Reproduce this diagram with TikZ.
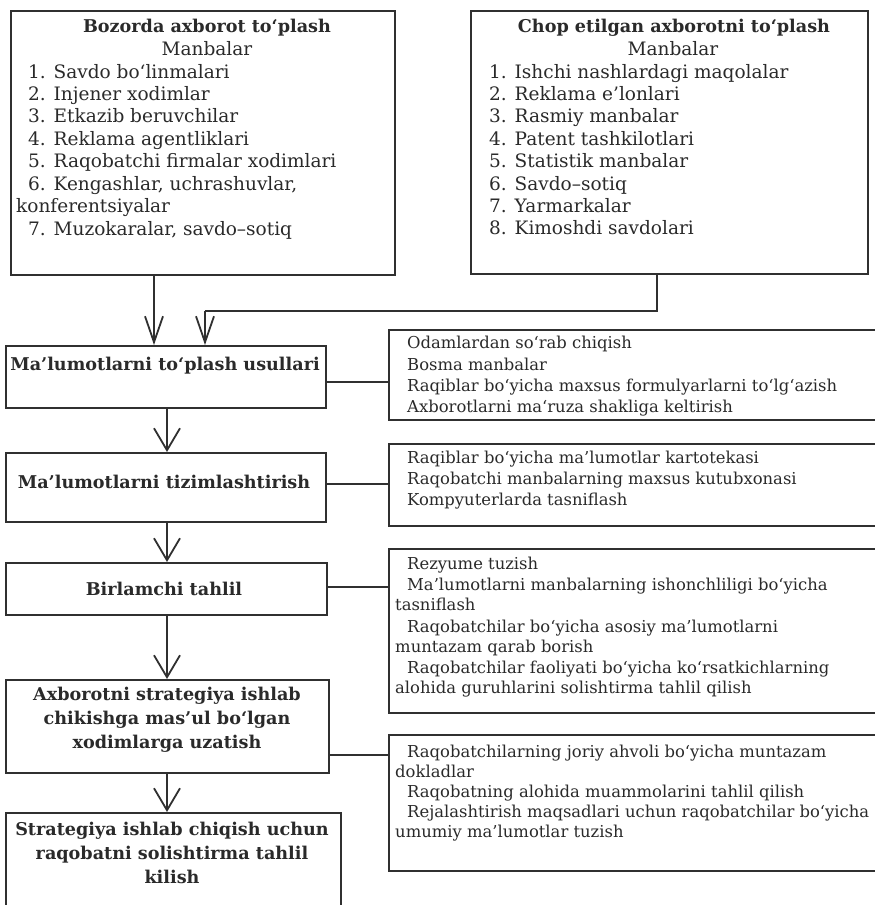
\documentclass[tikz,border=0pt]{standalone}
\usepackage{fontspec}
\setmainfont{DejaVu Serif}
\usetikzlibrary{arrows.meta}
\definecolor{ink}{HTML}{2A2A2A}
\definecolor{edge}{HTML}{303030}
\tikzset{
  boxnode/.style={draw=edge, line width=1.8pt, rectangle, inner sep=0pt, anchor=north west},
  conn/.style={draw=edge, line width=1.8pt},
  arrA/.style={conn, -{Straight Barb[length=26pt,width=18pt]}},
  arrB/.style={conn, -{Straight Barb[length=22pt,width=26pt]}},
  ttl/.style={font=\bfseries\fontsize{17.6}{20}\selectfont, text=ink, anchor=base, inner sep=0pt},
  sub/.style={font=\fontsize{18.5}{20}\selectfont, text=ink, anchor=base, inner sep=0pt},
  item/.style={font=\fontsize{18.5}{20}\selectfont, text=ink, anchor=base west, inner sep=0pt},
  sitem/.style={font=\fontsize{16.4}{18}\selectfont, text=ink, anchor=base west, inner sep=0pt},
}
\begin{document}
\begin{tikzpicture}[x=1pt,y=-1pt]
\fill[white] (0,0) rectangle (875,905);
\useasboundingbox (0,0) rectangle (875,905);

% ---------- top source boxes ----------
\node[boxnode, minimum width=384pt, minimum height=264pt] (src1) at (10,10) {};
\node[boxnode, minimum width=397pt, minimum height=263pt] (src2) at (470,10) {};

\node[ttl] (s1t) at (207,32) {Bozorda axborot to`plash};
\node[sub] (s1m) at (207,55) {Manbalar};
\foreach \t [count=\i] in {{1. Savdo bo`linmalari},{2. Injener xodimlar},{3. Etkazib beruvchilar},{4. Reklama agentliklari},{5. Raqobatchi firmalar xodimlari},{6. Kengashlar, uchrashuvlar,}}
  \node[item] (s1i\i) at (28,{78+(\i-1)*22.4}) {\t};
\node[item] (s1c) at (16,212) {konferentsiyalar};
\node[item] (s1i7) at (28,235) {7. Muzokaralar, savdo–sotiq};

\node[ttl] (s2t) at (674,32) {Chop etilgan axborotni to`plash};
\node[sub] (s2m) at (673,55) {Manbalar};
\foreach \t [count=\i] in {{1. Ishchi nashlardagi maqolalar},{2. Reklama e'lonlari},{3. Rasmiy manbalar},{4. Patent tashkilotlari},{5. Statistik manbalar},{6. Savdo–sotiq},{7. Yarmarkalar},{8. Kimoshdi savdolari}}
  \node[item] (s2i\i) at (489,{78+(\i-1)*22.4}) {\t};

% ---------- left process boxes ----------
\node[boxnode, minimum width=320pt, minimum height=62pt] (m1) at (5,345) {};
\node[boxnode, minimum width=320pt, minimum height=69pt] (m2) at (5,452) {};
\node[boxnode, minimum width=321pt, minimum height=52pt] (m3) at (5,562) {};
\node[boxnode, minimum width=323pt, minimum height=93pt] (m4) at (5,679) {};
\node[boxnode, minimum width=335pt, minimum height=100pt] (m5) at (5,812) {};

\node[ttl] (m1t) at (165,370) {Ma'lumotlarni to`plash usullari};
\node[ttl] (m2t) at (164,488) {Ma'lumotlarni tizimlashtirish};
\node[ttl] (m3t) at (164,595) {Birlamchi tahlil};
\node[ttl] (m4a) at (167,700) {Axborotni strategiya ishlab};
\node[ttl] (m4b) at (167,724) {chikishga mas'ul bo`lgan};
\node[ttl] (m4c) at (167,748) {xodimlarga uzatish};
\node[ttl] (m5a) at (172,835) {Strategiya ishlab chiqish uchun};
\node[ttl] (m5b) at (172,859) {raqobatni solishtirma tahlil};
\node[ttl] (m5c) at (172,883) {kilish};

% ---------- right detail boxes ----------
\node[boxnode, minimum width=490pt, minimum height=90pt] (r1) at (388,329) {};
\node[boxnode, minimum width=490pt, minimum height=82pt] (r2) at (388,443) {};
\node[boxnode, minimum width=490pt, minimum height=164pt] (r3) at (388,548) {};
\node[boxnode, minimum width=490pt, minimum height=136pt] (r4) at (388,734) {};

\node[sitem] (r1a) at (407,348) {Odamlardan so`rab chiqish};
\node[sitem] (r1b) at (407,370) {Bosma manbalar};
\node[sitem] (r1c) at (407,391) {Raqiblar bo`yicha maxsus formulyarlarni to`lg`azish};
\node[sitem] (r1d) at (407,412) {Axborotlarni ma`ruza shakliga keltirish};

\node[sitem] (r2a) at (407,463) {Raqiblar bo`yicha ma'lumotlar kartotekasi};
\node[sitem] (r2b) at (407,484) {Raqobatchi manbalarning maxsus kutubxonasi};
\node[sitem] (r2c) at (407,505) {Kompyuterlarda tasniflash};

\node[sitem] (r3a) at (407,569) {Rezyume tuzish};
\node[sitem] (r3b) at (407,590) {Ma'lumotlarni manbalarning ishonchliligi bo`yicha};
\node[sitem] (r3c) at (395,610) {tasniflash};
\node[sitem] (r3d) at (407,632) {Raqobatchilar bo`yicha asosiy ma'lumotlarni};
\node[sitem] (r3e) at (395,652) {muntazam qarab borish};
\node[sitem] (r3f) at (407,673) {Raqobatchilar faoliyati bo`yicha ko`rsatkichlarning};
\node[sitem] (r3g) at (395,693) {alohida guruhlarini solishtirma tahlil qilish};

\node[sitem] (r4a) at (407,757) {Raqobatchilarning joriy ahvoli bo`yicha muntazam};
\node[sitem] (r4b) at (395,777) {dokladlar};
\node[sitem] (r4c) at (407,797) {Raqobatning alohida muammolarini tahlil qilish};
\node[sitem] (r4d) at (407,817) {Rejalashtirish maqsadlari uchun raqobatchilar bo`yicha};
\node[sitem] (r4e) at (395,837) {umumiy ma'lumotlar tuzish};

% ---------- connectors ----------
\coordinate (j1) at (205,311);
\draw[arrA] ([xshift=144pt]src1.south west) -- ([xshift=149pt]m1.north west);
\draw[conn] ([xshift=187pt]src2.south west) |- (j1);
\draw[arrA] (j1) -- ([xshift=200pt]m1.north west);

\draw[arrB] ([xshift=162pt]m1.south west) -- ([xshift=162pt]m2.north west);
\draw[arrB] ([xshift=162pt]m2.south west) -- ([xshift=162pt]m3.north west);
\draw[arrB] ([xshift=162pt]m3.south west) -- ([xshift=162pt]m4.north west);
\draw[arrB] ([xshift=162pt]m4.south west) -- ([xshift=162pt]m5.north west);

\draw[conn] (m1.east |- 0,382) -- (r1.west |- 0,382);
\draw[conn] (m2.east |- 0,484) -- (r2.west |- 0,484);
\draw[conn] (m3.east |- 0,587) -- (r3.west |- 0,587);
\draw[conn] (m4.east |- 0,755) -- (r4.west |- 0,755);
\end{tikzpicture}
\end{document}
